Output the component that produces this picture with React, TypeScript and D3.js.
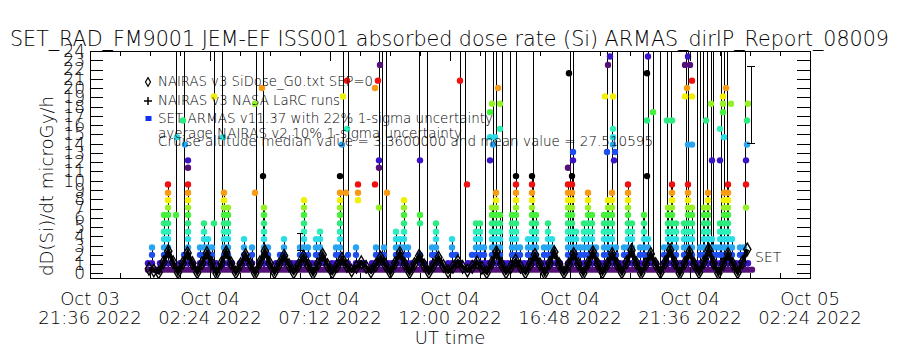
import React, { useEffect, useRef } from "react";
import * as d3 from "d3";

const FONT = "'DejaVu Sans', 'Liberation Sans', sans-serif";

// time axis: hours after 2022-10-03 21:36 UT
const timeTicks = [0, 4.8, 9.6, 14.4, 19.2, 24, 28.8];
const timeTickDays = ["Oct 03", "Oct 04", "Oct 04", "Oct 04", "Oct 04", "Oct 04", "Oct 05"];
const timeTickClock = ["21:36 2022", "02:24 2022", "07:12 2022", "12:00 2022", "16:48 2022", "21:36 2022", "02:24 2022"];
const doseTicks = [0, 1, 2, 3, 4, 5, 6, 7, 8, 9, 10, 11, 12, 13, 14, 15, 16, 17, 18, 19, 20, 21, 22, 23, 24];

// quantised dose levels seen in the SET ARMAS data (microGy/h)
const doseLevels = [0.4, 1.1, 2.0, 2.8, 3.7, 4.5, 5.4, 6.3, 7.1, 7.9, 8.7, 9.6, 10.5, 11.4,
  12.2, 13.1, 13.9, 14.7, 15.6, 16.5, 17.4, 18.3, 19.1, 20.0, 20.8, 21.6, 22.5, 23.4];
// colour of each level, repeating every 13 levels
const levelColors = ["#541078", "#3c14c8", "#1e4ef0", "#28a4f0", "#2adce6", "#2cf0b8",
  "#2cec80", "#46f03c", "#96f028", "#f0f000", "#f89a14", "#f01010", "#000000"];

// SET ARMAS: highest level reached in each 0.16 h slot
const setStartHour = 2.32;
const setStepHour = 0.16;
const setTops = [
  1, 3, 0, 1, 7, 11, 1, 0, 1, 2,
  11, 1, 0, 3, 6, 4, 3, 1, 0, 10,
  8, 1, 0, 1, 4, 1, 3, 0, 1, 8,
  3, 0, 1, 2, 4, 0, 1, 1, 3, 9,
  3, 1, 4, 5, 1, 0, 1, 3, 10, 1,
  2, 0, 3, 1, 1, 0, 1, 3, 2, 3,
  1, 1, 5, 4, 9, 3, 1, 0, 2, 1,
  0, 3, 6, 1, 0, 1, 4, 2, 1, 0,
  1, 2, 6, 6, 3, 1, 8, 10, 7, 1,
  1, 7, 12, 3, 1, 4, 12, 7, 1, 3,
  6, 4, 1, 1, 0, 11, 12, 5, 3, 6,
  10, 7, 3, 1, 7, 9, 10, 3, 1, 3,
  11, 6, 1, 3, 7, 4, 1, 1, 0, 3,
  8, 11, 6, 1, 6, 11, 8, 1, 3, 8,
  10, 4, 3, 6, 10, 11, 4, 1, 3, 3,
  1, 0,
];

// isolated SET samples: [hour, level index]
const setHighPoints: [number, number][] = [
  [3.44, 7], [3.48, 17], [3.72, 19], [3.8, 16], [3.92, 13], [3.92, 14],
  [4.96, 6], [4.96, 22], [5.32, 17],
  [6.6, 10], [6.6, 21], [6.88, 23], [6.92, 12],
  [10.0, 12], [10.08, 16], [10.12, 22], [10.24, 10], [10.28, 18], [10.28, 24],
  [10.72, 9], [10.72, 10], [10.72, 11],
  [11.4, 11], [11.4, 23], [11.52, 24], [11.6, 26], [11.56, 8], [11.56, 13], [11.56, 14], [11.88, 10],
  [13.2, 6], [13.2, 7], [13.2, 14],
  [14.8, 24], [15.08, 11],
  [16.0, 14], [16.0, 17], [16.0, 20], [16.08, 21], [16.12, 16], [16.2, 17], [16.32, 23], [16.4, 18], [16.4, 21],
  [19.12, 13], [19.16, 25], [19.32, 14], [19.32, 15],
  [20.6, 22], [20.68, 15], [20.72, 26], [20.8, 27], [20.92, 16], [20.92, 17], [20.92, 18], [20.92, 22], [20.96, 14], [21.0, 15],
  [22.28, 12], [22.28, 19], [22.28, 25], [22.32, 27], [22.52, 20],
  [23.08, 19], [23.28, 19],
  [23.8, 22], [23.8, 26], [23.88, 23], [23.92, 16], [23.92, 27], [24.0, 26], [24.08, 16], [24.08, 22], [24.08, 24],
  [24.64, 19], [24.84, 21], [24.88, 14],
  [25.2, 14], [25.2, 18], [25.32, 20], [25.32, 21], [25.32, 22], [25.36, 17], [25.44, 23], [25.64, 21],
  [26.24, 8], [26.24, 11], [26.24, 14], [26.28, 16], [26.28, 19], [26.32, 21],
];

// SET excursions that run off the top of the plot
const setSpikeHours = [3.44, 3.76, 4.96, 5.28, 6.64, 6.92, 10.12, 10.32, 11.56, 11.68, 11.84,
  13.16, 13.48, 14.8, 15.0, 15.8, 16.12, 16.24, 16.48, 16.8, 17.04, 17.72, 19.2, 19.32,
  20.68, 20.88, 21.08, 22.12, 22.32, 22.52, 22.8, 23.08, 23.24, 23.84, 23.92, 24.28, 24.4,
  24.52, 24.68, 24.84, 24.92, 25.24, 25.36, 25.48, 26.2];

// NAIRAS v3 SiDose_G0 model, sampled every 0.193 h
const nairasStartHour = 2.36;
const nairasStepHour = 0.193;
const nairasDose = [
  0.5, 0.3, 0.1, 1.2, 2.4, 1.2, 0.1, 1.1, 2.2, 1.1,
  0.1, 1.1, 2.2, 1.1, 0.0, 1.1, 2.3, 1.1, 0.1, 1.0,
  2.0, 1.0, 0.0, 1.2, 2.4, 1.1, 0.1, 1.0, 1.9, 0.9,
  0.1, 0.9, 1.8, 0.9, 0.0, 1.0, 2.0, 0.9, 0.1, 0.8,
  1.6, 0.8, 0.3, 0.7, 1.2, 0.7, 0.2, 0.9, 1.7, 0.9,
  0.1, 1.1, 2.2, 1.0, 0.1, 1.0, 1.9, 0.9, 0.1, 0.9,
  1.7, 0.8, 0.2, 0.7, 1.3, 0.7, 0.3, 0.7, 1.2, 0.6,
  0.1, 1.1, 2.3, 1.0, 0.1, 0.7, 1.4, 0.7, 0.1, 1.0,
  2.0, 1.0, 0.0, 1.1, 2.3, 1.0, 0.1, 1.0, 2.1, 1.0,
  0.0, 1.1, 2.3, 1.0, 0.1, 1.0, 2.1, 1.0, 0.1, 1.2,
  2.5, 1.1, 0.0, 1.0, 2.1, 1.0, 0.1, 1.2, 2.5, 1.1,
  0.0, 1.1, 2.3, 1.0, 0.1, 1.2, 2.6, 1.1, 0.0, 1.0,
  2.1, 1.0, 0.1, 1.2, 2.6,
];

// error bars: [hour, low, high]
const nairasAvgBars: [number, number, number][] = [[8.4, 2.5, 4.35]];
const setUncertaintyBars: [number, number, number][] = [[26.44, 14.06, 22.37]];

const legendLines = [
  "NAIRAS v3 SiDose_G0.txt SEP=0",
  "NAIRAS v3 NASA LaRC runs",
  "SET ARMAS v11.37 with 22% 1-sigma uncertainty",
  "average NAIRAS v2 10% 1-sigma uncertainty",
  "Cruise altitude median value = 3.3600000 and mean value = 27.510595",
];
const legendWidths = [215, 182, 335, 304, 495];

export default function App() {
  const svgRef = useRef<SVGSVGElement>(null);

  useEffect(() => {
    drawChart();
  }, []);

  const drawChart = () => {
    const width = 900;
    const height = 350;
    const marginLeft = 90;
    const marginRight = 90;
    const marginTop = 51;
    const marginBottom = 72;

    d3.select(svgRef.current).selectAll("*").remove();

    const svg = d3
      .select(svgRef.current)
      .attr("width", width)
      .attr("height", height)
      .attr("viewBox", [0, 0, width, height])
      .attr("style", `position:absolute;left:0;top:0;background:#fff;font-family:${FONT};font-weight:200;`);

    const x = d3.scaleLinear().domain([0, 28.8]).range([marginLeft, width - marginRight]);
    const y = d3.scaleLinear().domain([-0.5, 24]).range([height - marginBottom, marginTop]);

    svg
      .append("defs")
      .append("clipPath")
      .attr("id", "plot-clip")
      .append("rect")
      .attr("x", marginLeft)
      .attr("y", marginTop)
      .attr("width", width - marginLeft - marginRight)
      .attr("height", height - marginTop - marginBottom);

    const plot = svg.append("g").attr("clip-path", "url(#plot-clip)");

    // title
    svg
      .append("text")
      .attr("x", 10)
      .attr("y", 46)
      .attr("font-size", 22)
      .attr("textLength", 879)
      .attr("lengthAdjust", "spacingAndGlyphs")
      .text("SET_RAD_FM9001  JEM-EF ISS001 absorbed dose rate (Si) ARMAS_dirIP_Report_08009");

    const setColumns = setTops.map((top, i) => ({ t: setStartHour + i * setStepHour, top }));

    // SET line segments: column ramps and excursions off the top
    const lineG = plot
      .append("g")
      .attr("stroke", "#000")
      .attr("stroke-width", 1)
      .attr("shape-rendering", "crispEdges");
    lineG
      .selectAll("line.col")
      .data(setColumns.filter((d) => d.top >= 3))
      .join("line")
      .attr("class", "col")
      .attr("x1", (d) => Math.round(x(d.t)) + 0.5)
      .attr("x2", (d) => Math.round(x(d.t)) + 0.5)
      .attr("y1", y(doseLevels[0]))
      .attr("y2", (d) => y(doseLevels[d.top]));
    lineG
      .selectAll("line.spike")
      .data(setSpikeHours)
      .join("line")
      .attr("class", "spike")
      .attr("x1", (d) => Math.round(x(d)) + 0.5)
      .attr("x2", (d) => Math.round(x(d)) + 0.5)
      .attr("y1", y(doseLevels[0]))
      .attr("y2", y(30));

    // SET dots coloured by level
    const setPoints: { t: number; k: number }[] = [];
    setColumns.forEach((c) => {
      for (let k = 0; k <= c.top; k++) setPoints.push({ t: c.t, k });
    });
    setHighPoints.forEach(([t, k]) => setPoints.push({ t, k }));

    plot
      .append("g")
      .selectAll("circle")
      .data(setPoints)
      .join("circle")
      .attr("cx", (d) => x(d.t))
      .attr("cy", (d) => y(doseLevels[d.k]))
      .attr("r", 3.2)
      .attr("fill", (d) => levelColors[d.k % levelColors.length]);

    // NAIRAS model
    const nairas = nairasDose.map((v, i) => ({ t: nairasStartHour + i * nairasStepHour, v }));
    plot
      .append("path")
      .datum(nairas)
      .attr("fill", "none")
      .attr("stroke", "#000")
      .attr("stroke-width", 4)
      .attr("stroke-linejoin", "miter")
      .attr("d", d3.line<{ t: number; v: number }>().x((d) => x(d.t)).y((d) => y(d.v)));

    plot
      .append("g")
      .selectAll("path")
      .data(nairas)
      .join("path")
      .attr("transform", (d) => `translate(${x(d.t)},${y(d.v)})`)
      .attr("d", d3.symbol(d3.symbolDiamond, 45)())
      .attr("fill", "none")
      .attr("stroke", "#000")
      .attr("stroke-width", 1.4);

    // error bars
    const bars = [
      ...nairasAvgBars.map((b) => ({ b, cap: 3 })),
      ...setUncertaintyBars.map((b) => ({ b, cap: 4 })),
    ];
    const barG = plot
      .append("g")
      .attr("stroke", "#000")
      .attr("stroke-width", 1)
      .attr("shape-rendering", "crispEdges");
    bars.forEach(({ b, cap }) => {
      const [t, lo, hi] = b;
      barG.append("line").attr("x1", x(t)).attr("x2", x(t)).attr("y1", y(lo)).attr("y2", y(hi));
      [lo, hi].forEach((v) =>
        barG.append("line").attr("x1", x(t) - cap).attr("x2", x(t) + cap).attr("y1", y(v)).attr("y2", y(v))
      );
    });

    svg.append("text").attr("x", 755).attr("y", 262).attr("font-size", 14).text("SET");

    // legend
    const legend = svg.append("g").attr("font-size", 14);
    const legendBaselines = [86, 105, 123, 138, 146];
    legend
      .selectAll("text")
      .data(legendLines)
      .join("text")
      .attr("x", 158)
      .attr("y", (d, i) => legendBaselines[i])
      .attr("textLength", (d, i) => legendWidths[i])
      .attr("lengthAdjust", "spacingAndGlyphs")
      .text((d) => d);
    legend
      .append("path")
      .attr("transform", "translate(148,82)")
      .attr("d", d3.symbol(d3.symbolDiamond, 22)())
      .attr("fill", "#fff")
      .attr("stroke", "#000")
      .attr("stroke-width", 1.2);
    legend
      .append("path")
      .attr("transform", "translate(148,101)")
      .attr("d", "M-4,0H4M0,-4V4")
      .attr("stroke", "#000")
      .attr("stroke-width", 1.5);
    legend
      .append("rect")
      .attr("x", 145.5)
      .attr("y", 116)
      .attr("width", 6)
      .attr("height", 5)
      .attr("fill", "#1030f0");

    // axes
    const minorHours = d3.range(1.2, 28.8, 1.2).filter((h) => !timeTicks.some((t) => Math.abs(t - h) < 1e-6));
    const styleAxis = (g: any) => {
      g.attr("shape-rendering", "crispEdges");
      g.select(".domain").attr("stroke", "#000").attr("stroke-width", 1);
      g.selectAll(".tick line").attr("stroke", "#000");
    };

    svg
      .append("g")
      .attr("transform", `translate(0,${height - marginBottom})`)
      .call(d3.axisBottom(x).tickValues(timeTicks).tickSize(-10).tickSizeOuter(0).tickFormat(() => ""))
      .call(styleAxis);
    svg
      .append("g")
      .attr("transform", `translate(0,${height - marginBottom})`)
      .call(d3.axisBottom(x).tickValues(minorHours).tickSize(-5).tickSizeOuter(0).tickFormat(() => ""))
      .call(styleAxis);
    svg
      .append("g")
      .attr("transform", `translate(0,${marginTop})`)
      .call(d3.axisTop(x).tickValues(timeTicks).tickSize(-10).tickSizeOuter(0).tickFormat(() => ""))
      .call(styleAxis);
    svg
      .append("g")
      .attr("transform", `translate(0,${marginTop})`)
      .call(d3.axisTop(x).tickValues(minorHours).tickSize(-5).tickSizeOuter(0).tickFormat(() => ""))
      .call(styleAxis);

    svg
      .append("g")
      .attr("transform", `translate(${marginLeft},0)`)
      .call(d3.axisLeft(y).tickValues(doseTicks).tickSize(-13).tickSizeOuter(0).tickPadding(5).tickFormat(d3.format("d")))
      .call(styleAxis)
      .call((g: any) =>
        g.selectAll(".tick text").attr("font-size", 17).attr("font-family", FONT).attr("font-weight", 200).attr("fill", "#000")
      );
    svg
      .append("g")
      .attr("transform", `translate(${width - marginRight},0)`)
      .call(d3.axisRight(y).tickValues(doseTicks).tickSize(-13).tickSizeOuter(0).tickFormat(() => ""))
      .call(styleAxis);

    const xLabels = svg.append("g").attr("font-size", 18).attr("text-anchor", "middle");
    xLabels
      .selectAll("text.day")
      .data(timeTicks)
      .join("text")
      .attr("class", "day")
      .attr("x", (d) => x(d))
      .attr("y", 305)
      .text((d, i) => timeTickDays[i]);
    xLabels
      .selectAll("text.clock")
      .data(timeTicks)
      .join("text")
      .attr("class", "clock")
      .attr("x", (d) => x(d))
      .attr("y", 324)
      .text((d, i) => timeTickClock[i]);

    svg
      .append("text")
      .attr("x", 450)
      .attr("y", 344)
      .attr("text-anchor", "middle")
      .attr("font-size", 18)
      .text("UT time");

    svg
      .append("text")
      .attr("transform", "translate(53,186) rotate(-90)")
      .attr("text-anchor", "middle")
      .attr("font-size", 17)
      .attr("textLength", 180)
      .attr("lengthAdjust", "spacingAndGlyphs")
      .text("dD(Si)/dt microGy/h");
  };

  return <svg ref={svgRef}></svg>;
}
